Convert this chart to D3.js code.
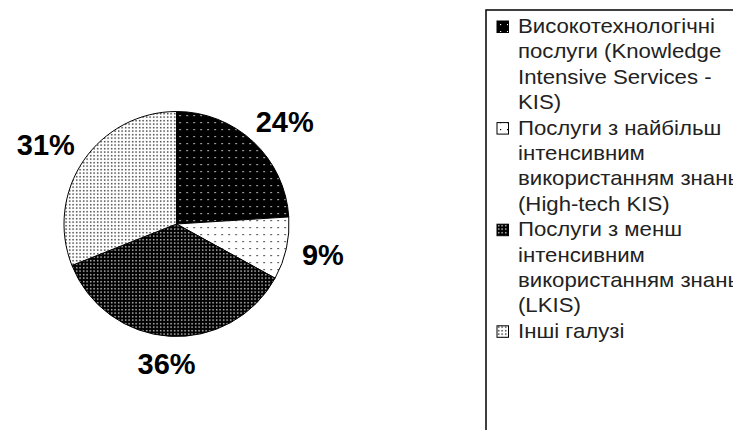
<!DOCTYPE html>
<html>
<head>
<meta charset="utf-8">
<script src="https://cdn.jsdelivr.net/npm/d3@7"></script>
<style>
  body { margin: 0; background: #ffffff; }
  svg { display: block; }
</style>
</head>
<body>
<div id="chart"></div>
<script>
// pie of sectors + clipped legend box on the right

const categories = ["KIS", "High-tech KIS", "LKIS", "Інші галузі"];
const values = [24, 9, 36, 31];
const pctLabels = ["24%", "9%", "36%", "31%"];
const legendLines = [
    ["Високотехнологічні", "послуги (Knowledge", "Intensive Services -", "KIS)"],
    ["Послуги з найбільш", "інтенсивним", "використанням знань", "(High-tech KIS)"],
    ["Послуги з менш", "інтенсивним", "використанням знань", "(LKIS)"],
    ["Інші галузі"]
];

const width = 733, height = 430;
const cx = 176.5, cy = 224, radius = 112.5;

const svg = d3.select("#chart")
    .append("svg")
    .attr("width", width)
    .attr("height", height)
    .style("background-color", "#ffffff");

// fill patterns (dots on black / on white)
const defs = svg.append("defs");
function dotPattern(id, bg, dot, w, h, pts, rr) {
    let p = defs.append("pattern")
        .attr("id", id)
        .attr("patternUnits", "userSpaceOnUse")
        .attr("width", w)
        .attr("height", h);
    p.append("rect").attr("width", w).attr("height", h).attr("fill", bg);
    pts.forEach(q => {
        p.append("rect")
            .attr("x", q[0]).attr("y", q[1])
            .attr("width", rr).attr("height", rr)
            .attr("fill", dot);
    });
}
dotPattern("p0", "#000", "#fff", 7, 7, [[3, 3]], 1.2);
dotPattern("p1", "#fff", "#000", 7, 7, [[3, 3]], 1.2);
dotPattern("p2", "#000", "#fff", 3.5, 3.5, [[1, 1]], 1.3);
dotPattern("p3", "#fff", "#000", 3.5, 3.5, [[1, 1]], 1.3);

const fills = d3.scaleOrdinal()
    .domain(categories)
    .range(["url(#p0)", "url(#p1)", "url(#p2)", "url(#p3)"]);

const pie = d3.pie().sort(null).value(d => d);
const arcs = pie(values);
const arc = d3.arc().innerRadius(0).outerRadius(radius);

let g = svg.append("g").attr("transform", `translate(${cx},${cy})`);

g.selectAll(".slice")
    .data(arcs)
    .enter().append("path")
    .attr("class", "slice")
    .attr("d", arc)
    .attr("fill", (d, i) => fills(categories[i]))
    .attr("stroke", "#000")
    .attr("stroke-width", 1);

// percent labels, box pushed outside along the slice middle
const labelDist = 129;
g.selectAll(".pct")
    .data(arcs)
    .enter().append("text")
    .attr("class", "pct")
    .attr("text-anchor", "middle")
    .style("font-family", "'Liberation Sans', Arial, sans-serif")
    .style("font-weight", "bold")
    .style("font-size", "29px")
    .text((d, i) => pctLabels[i])
    .each(function(d) {
        let a = (d.startAngle + d.endAngle) / 2;
        let hw = this.getComputedTextLength() / 2;
        let hh = 11;
        let x = Math.sin(a) * labelDist + Math.sin(a) * hw;
        let y = -Math.cos(a) * labelDist - Math.cos(a) * hh;
        d3.select(this).attr("x", x).attr("y", y + 10);
    });

// legend box, runs off the page right and bottom
const lx = 486, ly = 10;
svg.append("rect")
    .attr("x", lx).attr("y", ly)
    .attr("width", 400).attr("height", 500)
    .attr("fill", "none")
    .attr("stroke", "#000")
    .attr("stroke-width", 1.5);

const lineStep = 25.4;
const textX = 518;
let lineNo = 0;
let lg = svg.append("g").attr("class", "legend");
legendLines.forEach((lines, i) => {
    let base = 33 + lineNo * lineStep;
    lg.append("rect")
        .attr("x", 497).attr("y", base - 12)
        .attr("width", 11.5).attr("height", 11.5)
        .attr("fill", fills(categories[i]))
        .attr("stroke", "#000")
        .attr("stroke-width", 1);
    lines.forEach((t, j) => {
        lg.append("text")
            .attr("x", textX)
            .attr("y", base + j * lineStep)
            .attr("transform", `translate(${textX},0) scale(1.11,1) translate(${-textX},0)`)
            .style("font-family", "'Liberation Sans', Arial, sans-serif")
            .style("font-size", "20px")
            .attr("fill", "#222")
            .text(t);
    });
    lineNo += lines.length;
});
</script>
</body>
</html>
